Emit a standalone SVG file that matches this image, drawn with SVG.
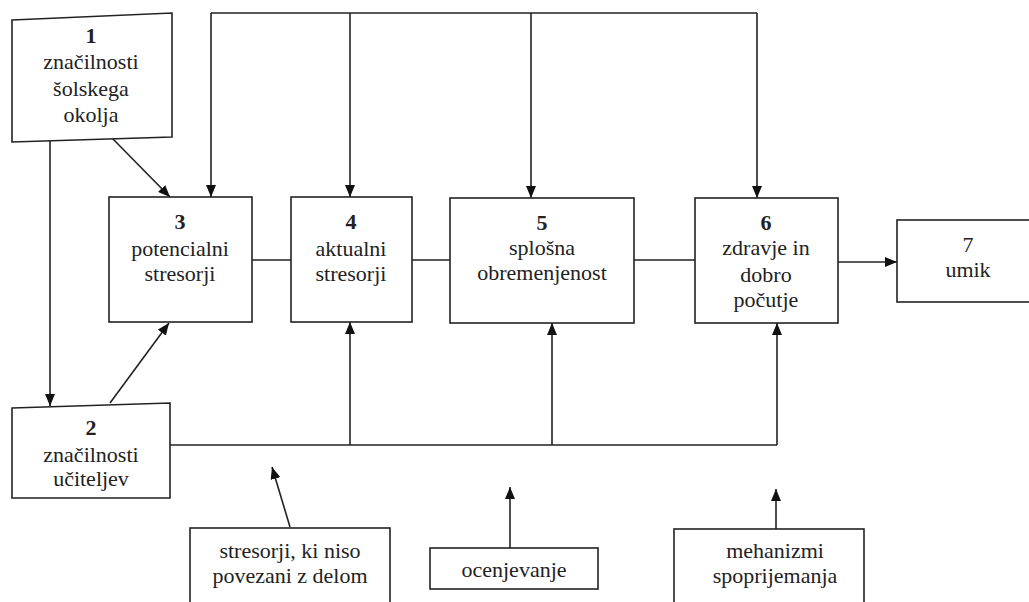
<svg xmlns="http://www.w3.org/2000/svg" width="1029" height="602" viewBox="0 0 1029 602">
<defs>
<marker id="ah" markerWidth="12" markerHeight="10" refX="12" refY="5" orient="auto" markerUnits="userSpaceOnUse">
<path d="M0,0 L12,5 L0,10 Z" fill="#111"/>
</marker>
<style>
.box{fill:#fff;stroke:#222;stroke-width:1.6}
.ln{fill:none;stroke:#222;stroke-width:1.6}
.ar{fill:none;stroke:#222;stroke-width:1.6;marker-end:url(#ah)}
.t{font-size:22px;fill:#222;text-anchor:middle}
.n{font-weight:bold}
</style>
</defs>
<rect width="1029" height="602" fill="#fff"/>
<g id="connectors">
<polyline class="ln" points="211,13 757,13"/>
<line class="ar" x1="211" y1="13" x2="211" y2="197"/>
<line class="ar" x1="350" y1="13" x2="350" y2="197"/>
<line class="ar" x1="531" y1="13" x2="531" y2="198"/>
<line class="ar" x1="757" y1="13" x2="757" y2="198"/>
<line class="ar" x1="112" y1="138" x2="170" y2="197"/>
<line class="ar" x1="50" y1="140" x2="50" y2="406"/>
<line class="ar" x1="110" y1="403" x2="169" y2="323"/>
<line class="ln" x1="252" y1="260" x2="291" y2="260"/>
<line class="ln" x1="412" y1="260" x2="450" y2="260"/>
<line class="ln" x1="634" y1="260" x2="695" y2="260"/>
<line class="ar" x1="838" y1="262" x2="897" y2="262"/>
<line class="ln" x1="170" y1="445" x2="777" y2="445"/>
<line class="ar" x1="350" y1="445" x2="350" y2="322"/>
<line class="ar" x1="552" y1="445" x2="552" y2="323"/>
<line class="ar" x1="777" y1="445" x2="777" y2="323"/>
<line class="ar" x1="290" y1="527" x2="272" y2="467"/>
<line class="ar" x1="510" y1="548" x2="510" y2="487"/>
<line class="ar" x1="776" y1="529" x2="776" y2="489"/>
</g>
<g font-family="Liberation Serif, Times New Roman, DejaVu Serif, serif">
<g id="node1">
<polygon class="box" points="12,20 172,13 172,137 12,142"/>
<text class="t n" x="91" y="43">1</text>
<text class="t" x="91" y="69">značilnosti</text>
<text class="t" x="91" y="96">šolskega</text>
<text class="t" x="91" y="122">okolja</text>
</g>
<g id="node2">
<polygon class="box" points="12,408 170,403 170,498 12,498"/>
<text class="t n" x="91" y="435">2</text>
<text class="t" x="91" y="462">značilnosti</text>
<text class="t" x="91" y="486">učiteljev</text>
</g>
<g id="node3">
<rect class="box" x="109" y="197" width="143" height="125"/>
<text class="t n" x="180" y="229">3</text>
<text class="t" x="180" y="256">potencialni</text>
<text class="t" x="180" y="281">stresorji</text>
</g>
<g id="node4">
<rect class="box" x="291" y="197" width="121" height="125"/>
<text class="t n" x="351" y="229">4</text>
<text class="t" x="351" y="256">aktualni</text>
<text class="t" x="351" y="281">stresorji</text>
</g>
<g id="node5">
<rect class="box" x="450" y="198" width="184" height="125"/>
<text class="t n" x="542" y="230">5</text>
<text class="t" x="542" y="255">splošna</text>
<text class="t" x="542" y="280">obremenjenost</text>
</g>
<g id="node6">
<rect class="box" x="695" y="198" width="143" height="125"/>
<text class="t n" x="766" y="230">6</text>
<text class="t" x="766" y="255">zdravje in</text>
<text class="t" x="766" y="282">dobro</text>
<text class="t" x="766" y="307">počutje</text>
</g>
<g id="node7">
<rect class="box" x="897" y="220" width="145" height="82"/>
<text class="t" x="968" y="252">7</text>
<text class="t" x="968" y="277">umik</text>
</g>
<g id="node8">
<rect class="box" x="190" y="528" width="200" height="90"/>
<text class="t" x="290" y="558">stresorji, ki niso</text>
<text class="t" x="290" y="583">povezani z delom</text>
</g>
<g id="node9">
<rect class="box" x="430" y="548" width="168" height="41"/>
<text class="t" x="514" y="577">ocenjevanje</text>
</g>
<g id="node10">
<rect class="box" x="674" y="529" width="190" height="90"/>
<text class="t" x="775" y="558">mehanizmi</text>
<text class="t" x="775" y="583">spoprijemanja</text>
</g>
</g>
</svg>
